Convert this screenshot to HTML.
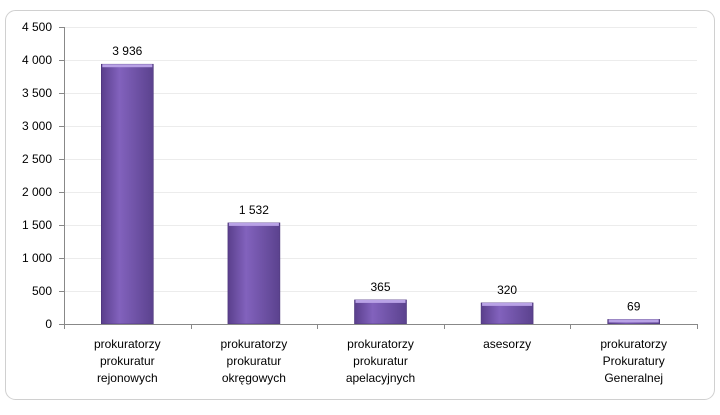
<!DOCTYPE html>
<html><head><meta charset="utf-8"><style>
body{margin:0;background:#fff;font-family:"Liberation Sans",sans-serif;}
</style></head><body>
<svg width="720" height="410" xmlns="http://www.w3.org/2000/svg">
<defs>
<linearGradient id="bg" x1="0" x2="1" y1="0" y2="0">
<stop offset="0" stop-color="#5a3f8c"/><stop offset="0.35" stop-color="#8262bd"/><stop offset="1" stop-color="#5b428e"/>
</linearGradient>
</defs>
<rect x="5.5" y="10.5" width="709" height="389" rx="10" fill="#fff" stroke="#d0d0d0"/>
<g id="grid"></g><g id="bars"></g><g id="axes"></g>
</svg>
<script>
const categories=[["prokuratorzy","prokuratur","rejonowych"],["prokuratorzy","prokuratur","okręgowych"],["prokuratorzy","prokuratur","apelacyjnych"],["asesorzy"],["prokuratorzy","Prokuratury","Generalnej"]];
const values=[3936,1532,365,320,69];
const valueLabels=["3 936","1 532","365","320","69"];
const ticks=[0,500,1000,1500,2000,2500,3000,3500,4000,4500];
const tickLabels=["0","500","1 000","1 500","2 000","2 500","3 000","3 500","4 000","4 500"];
const NS="http://www.w3.org/2000/svg";
const x0=64,x1=697,y0=324,yTop=27,maxV=4500;
const y=v=>y0-(v/maxV)*(y0-yTop);
const bw=(x1-x0)/categories.length;
const xc=i=>x0+bw*(i+0.5);
function mk(t,a,p,txt){const e=document.createElementNS(NS,t);for(const k in a)e.setAttribute(k,a[k]);if(txt!==undefined)e.textContent=txt;p.appendChild(e);return e;}
const G=document.getElementById('grid'),B=document.getElementById('bars'),A=document.getElementById('axes');
ticks.forEach((t,i)=>{
 if(t>0){const l=mk('line',{x1:x0,x2:x1,y1:y(t)+.5,y2:y(t)+.5,stroke:'#ececec'},G);
 
 }
 const tk=mk('line',{x1:x0-5,x2:x0,y1:y(t)+.5,y2:y(t)+.5,stroke:'#888'},A);
 
 
 const tl=mk('text',{x:x0-12,y:y(t)+4,'text-anchor':'end','font-size':12,fill:'#000'},A,tickLabels[i]);
 
 
});
values.forEach((v,i)=>{
 const w=52,cx=xc(i);
 const r=mk('rect',{x:cx-w/2,y:y(v),width:w,height:y0-y(v),fill:'url(#bg)',stroke:'#4a3478','stroke-width':0.6},B);
 
 
 const h=mk('rect',{x:cx-w/2+1,y:y(v),width:w-2,height:3,fill:'#b9a2e6'},B);
 
 
 const t=mk('text',{x:cx,y:y(v)-9,'text-anchor':'middle','font-size':12,fill:'#000'},B,valueLabels[i]);
 
 
 categories[i].forEach((s,j)=>{
  const c=mk('text',{x:cx,y:348+j*17,'text-anchor':'middle','font-size':12,fill:'#000'},A,s);
  
  
 });
});
for(let i=0;i<=categories.length;i++){const xx=Math.round(x0+bw*i)+.5;
 const l=mk('line',{x1:xx,x2:xx,y1:y0,y2:y0+5,stroke:'#888'},A);
 
 }
const ya=mk('line',{x1:x0+.5,x2:x0+.5,y1:yTop,y2:y0,stroke:'#888'},A);


const xa=mk('line',{x1:x0,x2:x1,y1:y0+.5,y2:y0+.5,stroke:'#888'},A);


</script>
</body></html>
